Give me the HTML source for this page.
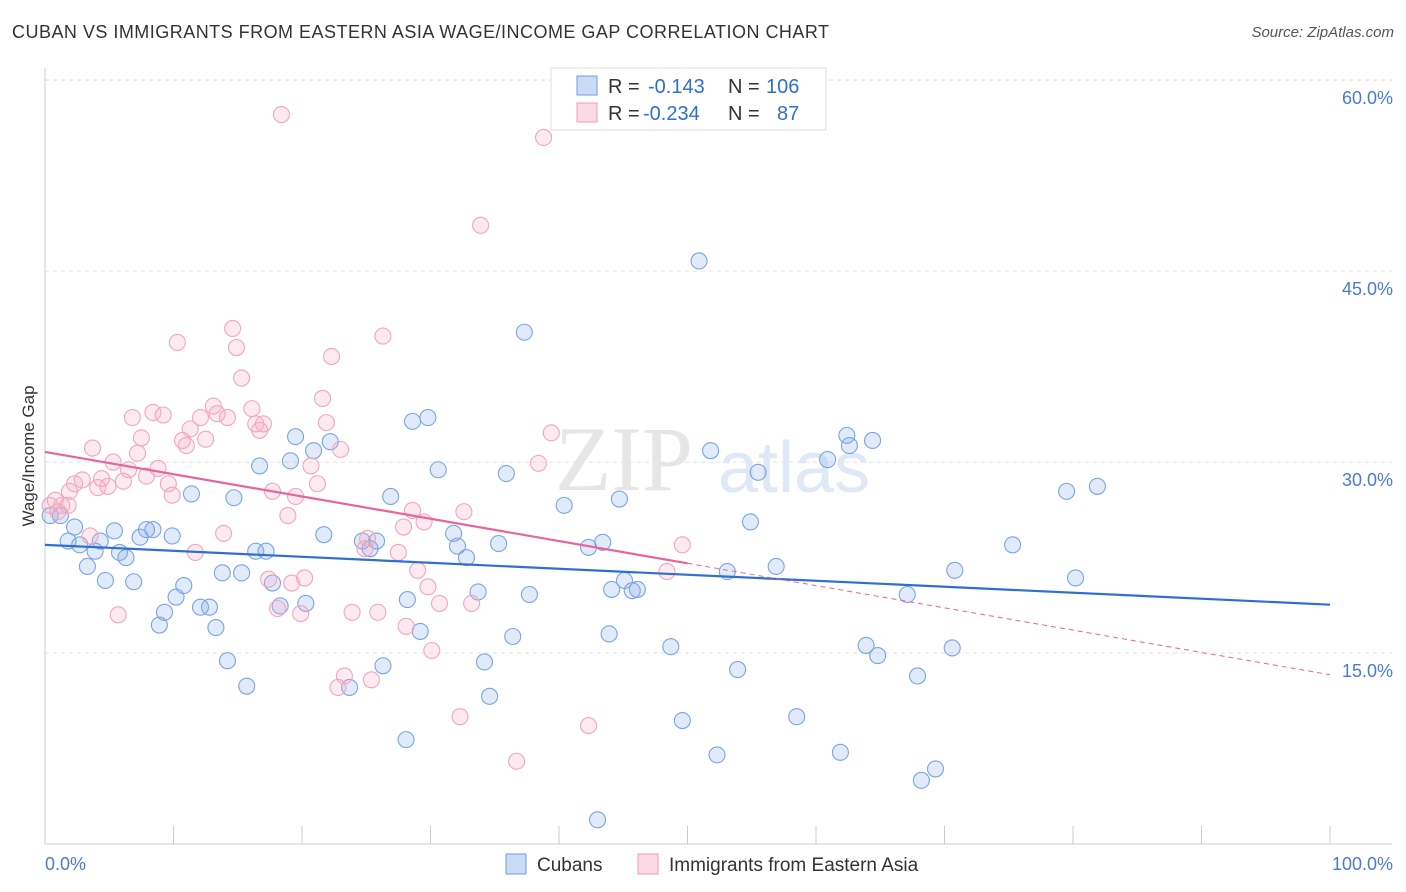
<!DOCTYPE html>
<html><head><meta charset="utf-8"><style>
body{margin:0;background:#fff;font-family:"Liberation Sans",sans-serif;}
#wrap{position:relative;width:1406px;height:892px;overflow:hidden;}
.t{position:absolute;white-space:nowrap;}
</style></head><body>
<div id="wrap">
<div class="t" style="left:12px;top:22px;font-size:18px;color:#333;letter-spacing:0.48px">CUBAN VS IMMIGRANTS FROM EASTERN ASIA WAGE/INCOME GAP CORRELATION CHART</div>
<div class="t" style="right:12px;top:24px;font-size:15px;color:#555;font-style:italic">Source: ZipAtlas.com</div>
<svg id="svg" width="1406" height="892" style="position:absolute;left:0;top:0"></svg>
</div>
<script>
const yTicks=[15,30,45,60];
const xTickLabels=["0.0%","100.0%"];
const blueX=[0.4,1.2,2.3,1.8,2.7,3.3,3.9,4.3,4.7,5.4,5.8,6.3,6.9,7.4,7.9,8.4,8.9,9.3,9.9,10.2,10.8,11.4,12.1,12.8,13.3,13.8,14.2,14.7,15.3,15.7,16.4,16.7,17.2,17.7,18.3,19.1,19.5,20.3,20.9,21.7,22.2,23.7,24.7,25.3,25.8,26.3,26.9,28.1,28.2,28.6,29.2,29.8,30.6,31.8,32.1,32.8,33.7,34.2,34.6,35.3,35.9,36.4,37.3,37.7,40.4,42.3,43.0,43.4,43.9,44.1,44.7,45.1,45.7,46.1,48.7,49.6,50.9,51.8,52.3,53.1,53.9,54.9,55.5,56.9,58.5,60.9,61.9,62.4,62.6,63.9,64.4,64.8,67.1,67.9,68.2,69.3,70.6,70.8,75.3,79.5,80.2,81.9];
const blueY=[25.8,25.8,24.9,23.8,23.5,21.8,23.0,23.8,20.7,24.6,22.9,22.5,20.6,24.1,24.7,24.7,17.2,18.2,24.2,19.4,20.3,27.5,18.6,18.6,17.0,21.3,14.4,27.2,21.3,12.4,23.0,29.7,23.0,20.5,18.7,30.1,32.0,18.9,30.9,24.3,31.6,12.3,23.8,23.2,23.8,14.0,27.3,8.2,19.2,33.2,16.7,33.5,29.4,24.4,23.4,22.5,19.8,14.3,11.6,23.6,29.1,16.3,40.2,19.6,26.6,23.3,1.9,23.7,16.5,20.0,27.1,20.7,19.9,20.0,15.5,9.7,45.8,30.9,7.0,21.4,13.7,25.3,29.2,21.8,10.0,30.2,7.2,32.1,31.3,15.6,31.7,14.8,19.6,13.2,5.0,5.9,15.4,21.5,23.5,27.7,20.9,28.1];
const pinkX=[0.8,1.3,1.8,1.0,1.9,2.3,2.9,3.5,3.7,4.1,4.4,4.9,5.3,5.7,6.1,6.5,6.8,7.2,7.5,7.9,8.4,8.8,9.2,9.6,9.9,10.3,10.7,11.0,11.3,11.7,12.1,12.5,13.1,13.4,13.9,14.2,14.6,14.9,15.3,16.1,16.4,16.7,17.0,17.4,17.7,18.1,18.4,18.9,19.2,19.5,19.9,20.2,20.7,21.2,21.6,21.9,22.3,23.0,23.3,22.8,23.9,24.9,25.1,25.4,25.9,26.3,27.5,27.9,28.1,28.6,29.0,29.5,29.8,30.1,30.7,32.3,32.6,33.2,33.9,36.7,38.4,38.8,39.4,42.3,48.4,49.6,0.4];
const pinkY=[27.0,26.6,26.6,26.1,27.7,28.3,28.6,24.2,31.1,28.0,28.7,28.1,30.0,18.0,28.5,29.4,33.5,30.7,31.9,28.9,33.9,29.5,33.7,28.3,27.4,39.4,31.7,31.3,32.6,22.9,33.5,31.8,34.4,33.8,24.4,33.5,40.5,39.0,36.6,34.2,33.0,32.5,33.0,20.8,27.7,18.5,57.3,25.8,20.5,27.3,18.1,20.9,29.7,28.3,35.0,33.1,38.3,31.0,13.2,12.3,18.2,23.2,24.0,12.9,18.2,39.9,22.9,24.9,17.1,26.2,21.5,25.3,20.2,15.2,18.9,10.0,26.1,18.9,48.6,6.5,29.9,55.5,32.3,9.3,21.4,23.5,26.6];
const blueTrend=[23.5,18.8];
const pinkTrend=[30.8,13.3];
const pinkSolidEnd=50;

const X0=45,X1=1330,Y0=844,PX=12.73;
const xs=v=>X0+(X1-X0)*v/100;
const ys=v=>Y0-v*PX;
const svg=document.getElementById('svg');
const NS='http://www.w3.org/2000/svg';
function mk(tag,attrs,parent){const e=document.createElementNS(NS,tag);for(const k in attrs)e.setAttribute(k,attrs[k]);(parent||svg).appendChild(e);return e;}

mk('line',{x1:X0,x2:1392,y1:80,y2:80,stroke:'#e2e2e2','stroke-dasharray':'4,4'});
yTicks.forEach(v=>{
  const g=mk('line',{x1:X0,x2:1392,y1:ys(v),y2:ys(v),stroke:'#e2e2e2','stroke-dasharray':'4,4'});
  
  
  const t=mk('text',{x:1393,y:ys(v)+24,'text-anchor':'end','font-size':18,fill:'#4a7bd0','font-family':'Liberation Sans'});
  t.textContent=v.toFixed(1)+'%';
  
  
});
const ax=mk('line',{x1:X0,x2:X0,y1:68,y2:Y0,stroke:'#ccc'});

const bx=mk('line',{x1:X0,x2:1392,y1:Y0,y2:Y0,stroke:'#ccc'});

for(let i=0;i<=10;i++){
  const tk=mk('line',{x1:xs(i*10),x2:xs(i*10),y1:Y0,y2:Y0-18,stroke:'#ccc'});
  
}
const xl0=mk('text',{x:45,y:870,'font-size':18,fill:'#4a7bd0','font-family':'Liberation Sans'});xl0.textContent=xTickLabels[0];

const xl1=mk('text',{x:1393,y:870,'text-anchor':'end','font-size':18,fill:'#4a7bd0','font-family':'Liberation Sans'});xl1.textContent=xTickLabels[1];

const yt=mk('text',{x:34,y:456,'text-anchor':'middle','font-size':17,fill:'#333','font-family':'Liberation Sans',transform:'rotate(-90 34 456)'});yt.textContent='Wage/Income Gap';

const wm=mk('text',{x:555,y:490,'font-size':92,fill:'#e6e6e6','font-family':'Liberation Serif'});wm.textContent='ZIP';

const wm2=mk('text',{x:718,y:492,'font-size':72,fill:'#dfe8f5','font-family':'Liberation Sans'});wm2.textContent='atlas';

blueX.forEach((x,i)=>{
  const c=mk('circle',{cx:xs(x),cy:ys(blueY[i]),r:8,fill:'rgba(130,170,230,0.25)',stroke:'#7aa5e3','stroke-width':1.1});
  
  
});
pinkX.forEach((x,i)=>{
  const c=mk('circle',{cx:xs(x),cy:ys(pinkY[i]),r:8,fill:'rgba(245,170,195,0.25)',stroke:'#f2a5c0','stroke-width':1.1});
  
  
});
const bl=mk('line',{x1:xs(0),y1:ys(blueTrend[0]),x2:xs(100),y2:ys(blueTrend[1]),stroke:'#2f6fd0','stroke-width':2.2});

const pAt=x=>pinkTrend[0]+(pinkTrend[1]-pinkTrend[0])*x/100;
const pl=mk('line',{x1:xs(0),y1:ys(pinkTrend[0]),x2:xs(pinkSolidEnd),y2:ys(pAt(pinkSolidEnd)),stroke:'#e8649a','stroke-width':2.2});

const pd=mk('line',{x1:xs(pinkSolidEnd),y1:ys(pAt(pinkSolidEnd)),x2:xs(100),y2:ys(pinkTrend[1]),stroke:'#e8649a','stroke-width':1,'stroke-dasharray':'5,4'});

const lg=mk('g',{});

mk('rect',{x:551,y:68,width:275,height:62,fill:'#fff',stroke:'#ddd'},lg);
mk('rect',{x:577,y:76,width:20,height:19,fill:'rgba(120,165,230,0.4)',stroke:'#6f9de0'},lg);
mk('rect',{x:577,y:103,width:20,height:19,fill:'rgba(245,160,190,0.4)',stroke:'#f09ab8'},lg);
function lt(x,y,s,c){const t=mk('text',{x:x,y:y,'font-size':20,fill:c,'font-family':'Liberation Sans'},lg);t.textContent=s;return t;}
lt(608,93,'R =','#333');lt(648,93,'-0.143','#2f6fd0');lt(728,93,'N =','#333');lt(766,93,'106','#2f6fd0');
lt(608,120,'R =','#333');lt(643,120,'-0.234','#2f6fd0');lt(728,120,'N =','#333');lt(777,120,'87','#2f6fd0');
const bl1=mk('rect',{x:506,y:854,width:20,height:20,fill:'rgba(120,165,230,0.4)',stroke:'#6f9de0'});

const bt1=mk('text',{x:537,y:871,'font-size':19,fill:'#333','font-family':'Liberation Sans'});bt1.textContent='Cubans';

const bl2=mk('rect',{x:638,y:854,width:20,height:20,fill:'rgba(245,160,190,0.4)',stroke:'#f09ab8'});

const bt2=mk('text',{x:669,y:871,'font-size':19,fill:'#333','font-family':'Liberation Sans'});bt2.textContent='Immigrants from Eastern Asia';

</script>
</body></html>
